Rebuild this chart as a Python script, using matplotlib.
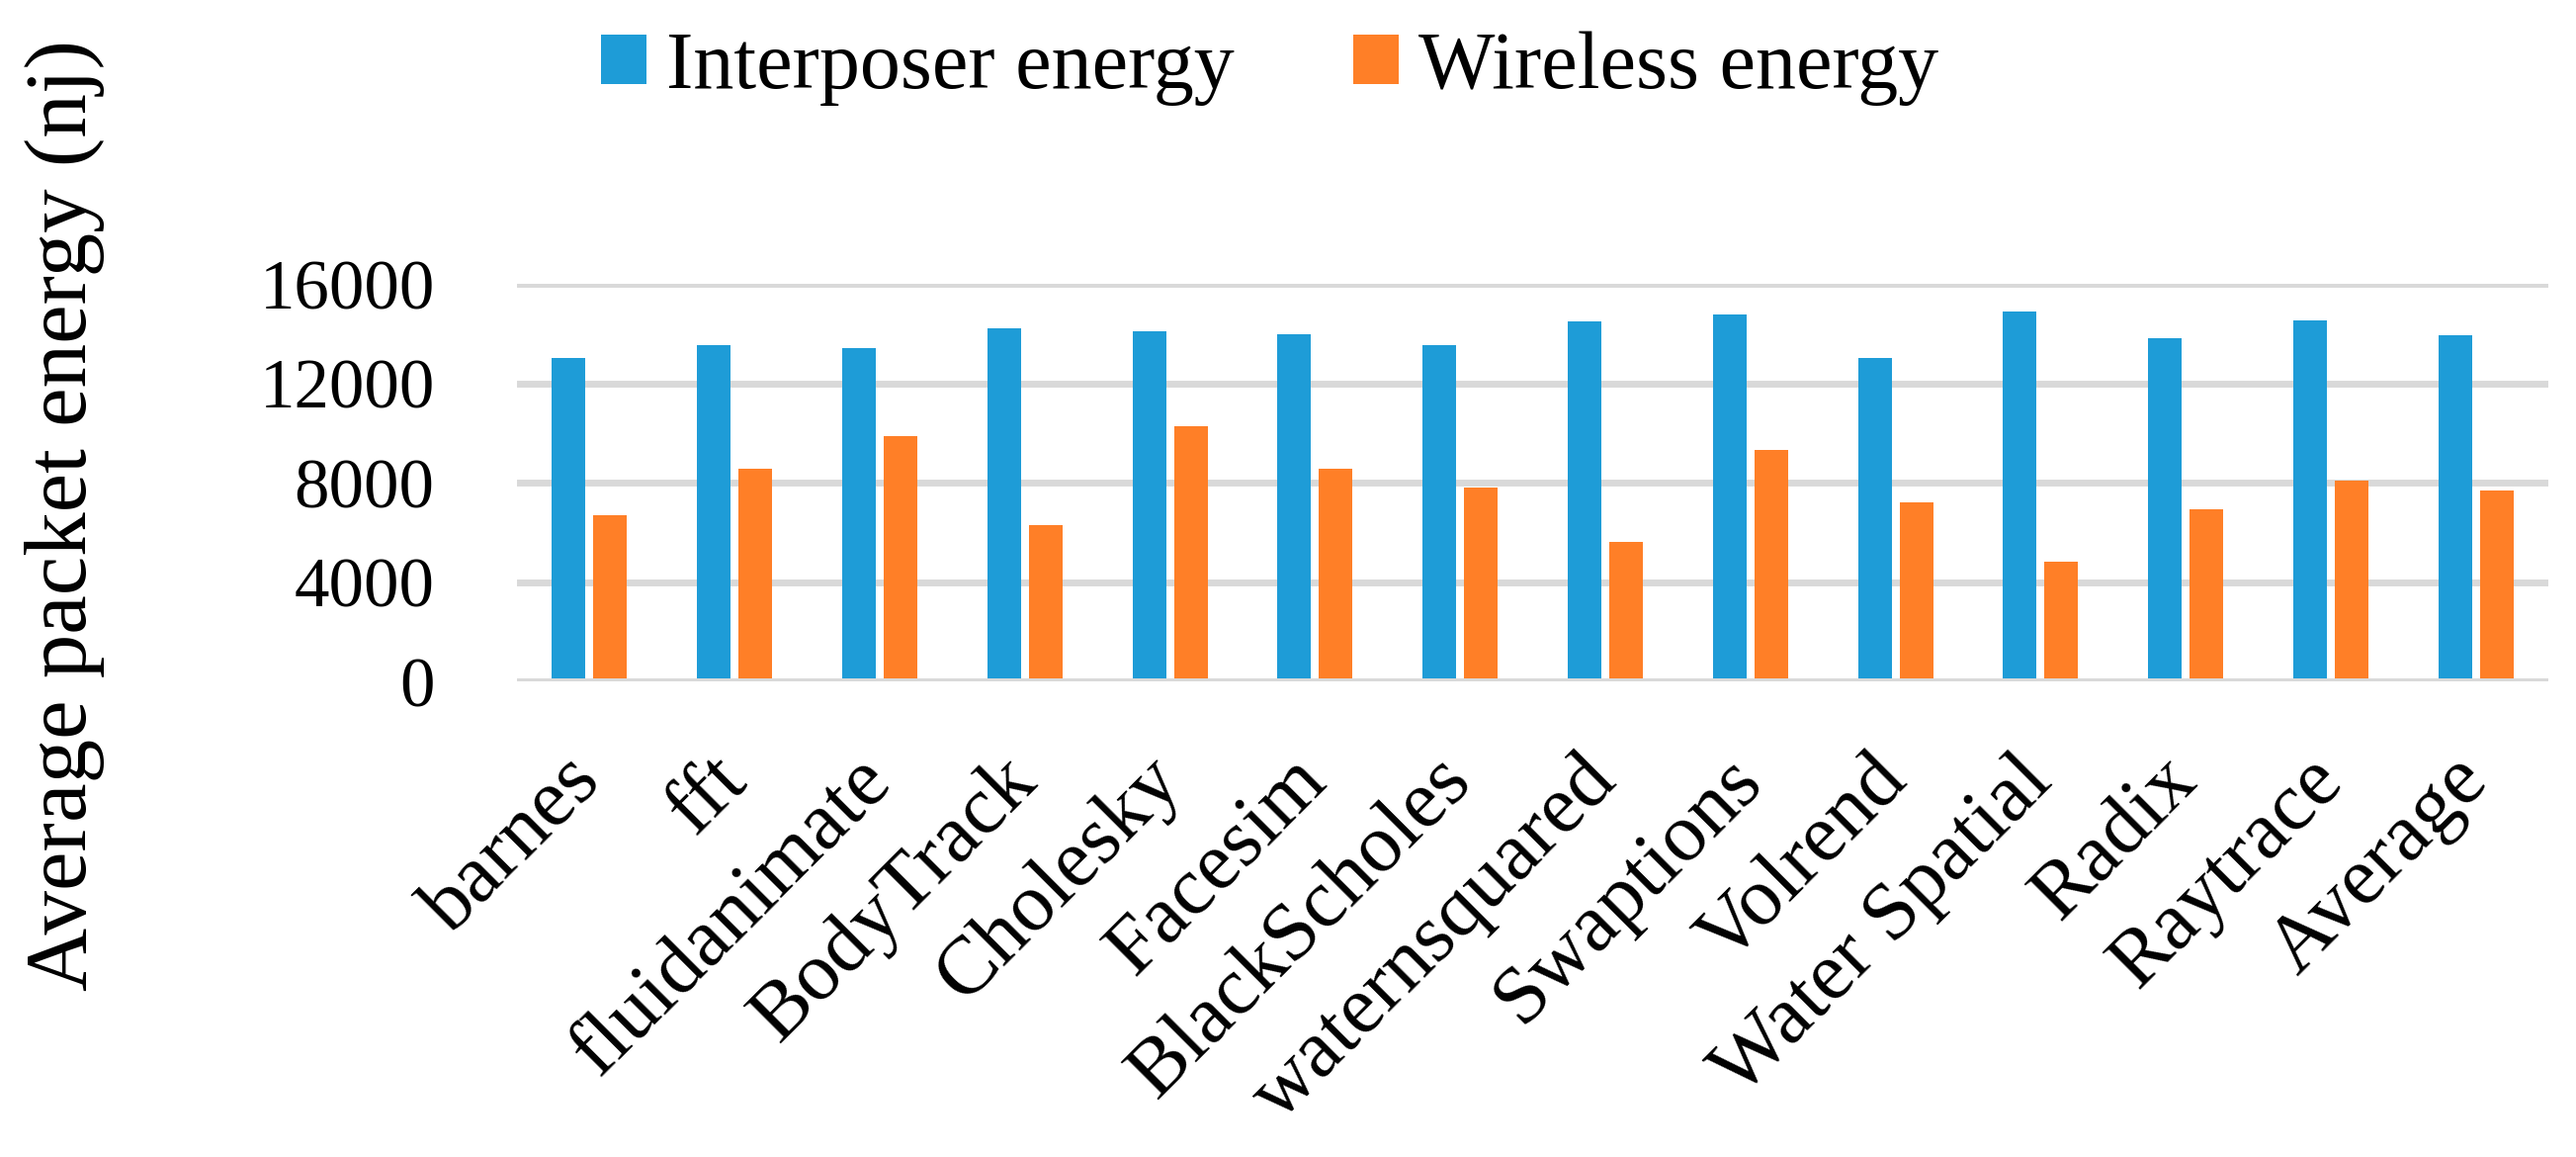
import matplotlib
matplotlib.use('Agg')
import matplotlib.pyplot as plt
import numpy as np

# Data
benchmarks = ['barnes', 'fft', 'fluidanimate', 'BodyTrack', 'Cholesky', 'Facesim',
              'BlackScholes', 'waternsquared', 'Swaptions', 'Volrend', 'Water Spatial',
              'Radix', 'Raytrace', 'Average']
interposer = [13000, 13550, 13400, 14220, 14100, 13990, 13550, 14500, 14780,
              13000, 14900, 13830, 14540, 13950]
wireless = [6700, 8570, 9890, 6300, 10280, 8570, 7820, 5630, 9330,
            7220, 4830, 6940, 8060, 7700]
y_ticks = [0, 4000, 8000, 12000, 16000]

blue = '#1e9cd7'
orange = '#ff7f27'
grid_col = '#d9d9d9'

plt.rcParams['font.family'] = ['Liberation Serif', 'DejaVu Serif']

fig = plt.figure(figsize=(26.06, 11.70), dpi=100)
ax = fig.add_axes([0.2007, 0.4111, 0.7886, 0.3436])

x = np.arange(len(benchmarks))
w = 0.232
ax.bar(x - 0.143, interposer, w, color=blue, label='Interposer energy', zorder=2)
ax.bar(x + 0.143, wireless, w, color=orange, label='Wireless energy', zorder=2)

# grid lines
for t in y_ticks:
    ax.axhline(t, color=grid_col, linewidth=5, zorder=1 if t else 3)

ax.set_xlim(-0.5, len(benchmarks) - 0.5)
ax.set_ylim(0, 16000)
ax.set_yticks(y_ticks)
ax.set_yticklabels([str(t) for t in y_ticks], fontsize=51)
ax.tick_params(axis='y', length=0, pad=60)
ax.set_xticks(x)
ax.set_xticklabels(benchmarks, fontsize=60, rotation=45, ha='right',
                   va='center', rotation_mode='anchor')
ax.tick_params(axis='x', length=0, pad=64)
for s in ax.spines.values():
    s.set_visible(False)

fig.text(0.025, 0.5547, 'Average packet energy (nj)', rotation=90,
         ha='center', va='center', fontsize=64)

fig.legend(loc='center left', bbox_to_anchor=(0.2333, 0.941), ncol=2,
           frameon=False, fontsize=59, handlelength=0.56, handleheight=0.56,
           handletextpad=0.25, columnspacing=1.46, borderpad=0, borderaxespad=0)

fig.savefig('out.png', dpi=100)
